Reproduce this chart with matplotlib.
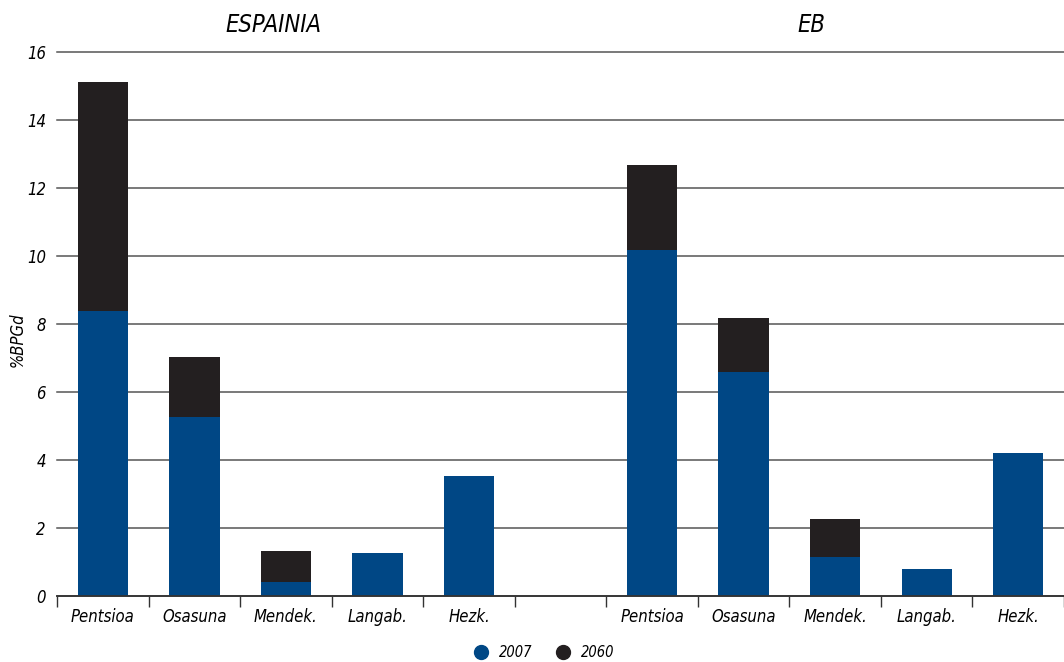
import matplotlib.pyplot as plt
import numpy as np

categories = ['Pentsioa', 'Osasuna', 'Mendek.', 'Langab.', 'Hezk.', '',
              'Pentsioa', 'Osasuna', 'Mendek.', 'Langab.', 'Hezk.']
# 2007 value and total in 2060 (stacked)
val_2007 = [8.37, 5.27, 0.42, 1.26, 3.52, 0, 10.19, 6.60, 1.15, 0.80, 4.21]
val_2060 = [15.11, 7.04, 1.33, 1.26, 3.52, 0, 12.67, 8.19, 2.27, 0.80, 4.21]
groups = ['ESPAINIA', 'EB']

blue = '#004785'
black = '#231f20'
plt.rcParams['font.family'] = ['DejaVu Sans']
plt.rcParams['font.style'] = 'italic'
plt.rcParams['font.stretch'] = 'condensed'

fig = plt.figure(figsize=(10.64, 6.62), dpi=100)
ax = fig.add_axes([0.0536, 0.0997, 0.9464, 0.8218])

x = np.arange(len(categories))
extra = np.array(val_2060) - np.array(val_2007)
ax.bar(x, val_2007, width=0.55, color=blue, zorder=3, label='2007')
ax.bar(x, extra, bottom=val_2007, width=0.55, color=black, zorder=3, label='2060')

ax.set_xlim(-0.5, len(categories) - 0.5)
ax.set_ylim(0, 16)
ax.set_yticks(range(0, 17, 2))
ax.yaxis.grid(True, color='#555555', lw=1.1, zorder=0)
for gl in ax.get_ygridlines():
    gl.set_clip_on(False)
ax.tick_params(axis='y', length=0, labelsize=12, pad=8)
for s in ['top', 'right', 'left']:
    ax.spines[s].set_visible(False)
ax.spines['bottom'].set_color('#333333')
ax.spines['bottom'].set_linewidth(1.3)
ax.spines['bottom'].set_zorder(4)

ax.set_xticks(x)
ax.set_xticklabels(categories, fontsize=12)
ax.set_xticks(np.arange(-0.5, len(categories), 1), minor=True)
ax.tick_params(axis='x', which='major', length=0, pad=9)
ax.tick_params(axis='x', which='minor', length=8, width=1, color='#333333', direction='out')

fig.text(18 / 1064, 1 - 340 / 662, '%BPGd', fontsize=12, rotation=90, ha='center', va='center')

ax.text(1.86, 16.45, groups[0], fontsize=17, ha='center', va='bottom')
ax.text(7.74, 16.45, groups[1], fontsize=17, ha='center', va='bottom')

handles = [plt.Line2D([], [], marker='o', ls='', color=blue, markersize=10),
           plt.Line2D([], [], marker='o', ls='', color=black, markersize=10)]
fig.legend(handles, ['2007', '2060'], loc='center', bbox_to_anchor=(0.508, 0.014),
           ncol=2, frameon=False, fontsize=10.5, handletextpad=0.2, columnspacing=1.1)

fig.savefig('out.png', dpi=100)
